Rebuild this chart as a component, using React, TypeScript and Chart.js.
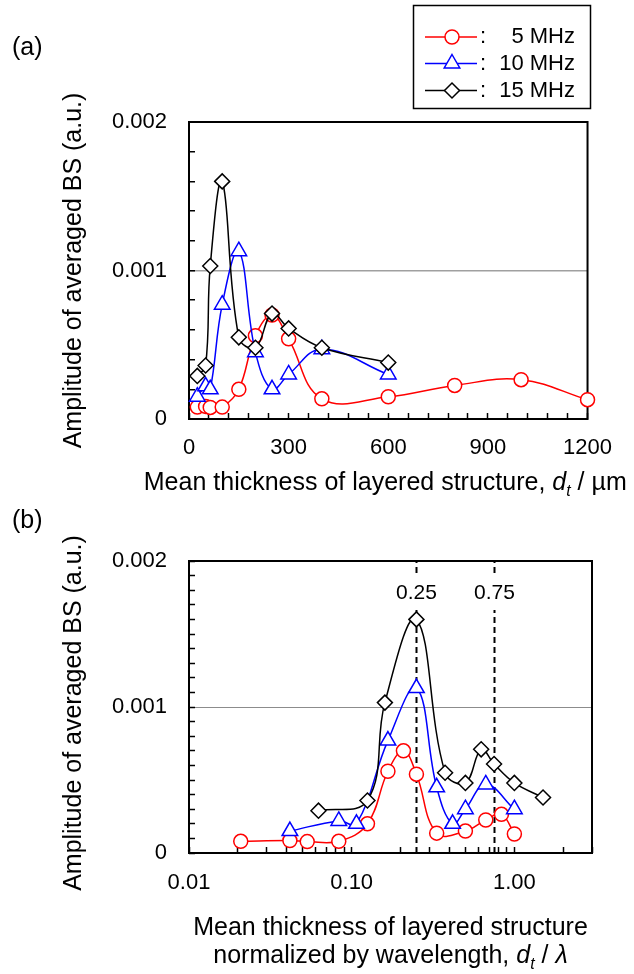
import React, { useEffect, useRef } from 'react';
import { Chart, registerables } from 'chart.js';

Chart.register(...registerables);

const FONT = '"Liberation Sans", Arial, Helvetica, sans-serif';

// Mean thickness of the layered structure (µm)
const THICKNESS_5MHZ = [25, 50, 64, 100, 150, 200, 250, 300, 400, 600, 800, 1000, 1200];
const THICKNESS_10MHZ = [25, 50, 64, 100, 150, 200, 250, 300, 400, 600];
const THICKNESS_15MHZ = [25, 50, 64, 100, 150, 200, 250, 300, 400, 600];

// Thickness normalized by wavelength, d_t / λ
const NORM_5MHZ = [0.0208, 0.0417, 0.0533, 0.0833, 0.125, 0.167, 0.208, 0.25, 0.333, 0.5, 0.667, 0.833, 1.0];
const NORM_10MHZ = [0.0417, 0.0833, 0.107, 0.167, 0.25, 0.333, 0.417, 0.5, 0.667, 1.0];
const NORM_15MHZ = [0.0625, 0.125, 0.16, 0.25, 0.375, 0.5, 0.625, 0.75, 1.0, 1.5];

// Amplitude of averaged backscatter (a.u.)
const AMP_5MHZ = [0.00008, 0.000085, 0.000078, 0.00008, 0.0002, 0.00056, 0.0007, 0.00054, 0.000136, 0.00015, 0.000226, 0.000265, 0.00013];
const AMP_10MHZ = [0.00015, 0.00022, 0.0002, 0.00077, 0.00113, 0.00045, 0.0002, 0.0003, 0.00047, 0.0003];
const AMP_15MHZ = [0.00029, 0.00036, 0.00103, 0.0016, 0.00055, 0.00048, 0.00071, 0.00061, 0.00048, 0.00038];

// Axis ticks
const TOP_X_TICKS = [0, 60, 120, 180, 240, 300, 360, 420, 480, 540, 600, 660, 720, 780, 840, 900, 960, 1020, 1080, 1140, 1200];
const TOP_X_LABELS = [0, 300, 600, 900, 1200];
const TOP_Y_TICKS = [0, 0.0002, 0.0004, 0.0006, 0.0008, 0.001, 0.0012, 0.0014, 0.0016, 0.0018, 0.002];
const BOTTOM_Y_TICKS = [0, 0.0001, 0.0002, 0.0003, 0.0004, 0.0005, 0.0006, 0.0007, 0.0008, 0.0009, 0.001,
  0.0011, 0.0012, 0.0013, 0.0014, 0.0015, 0.0016, 0.0017, 0.0018, 0.0019, 0.002];
const Y_LABEL_VALUES = [0, 0.001, 0.002];
const Y_LABEL_TEXT = ['0', '0.001', '0.002'];
const LOG_X_TICKS = [0.01, 0.02, 0.03, 0.04, 0.05, 0.06, 0.07, 0.08, 0.09,
  0.1, 0.2, 0.3, 0.4, 0.5, 0.6, 0.7, 0.8, 0.9, 1, 2, 3];
const LOG_X_LABEL_VALUES = [0.01, 0.1, 1];
const LOG_X_LABEL_TEXT = ['0.01', '0.10', '1.00'];
const REFERENCE_RATIOS = [0.25, 0.75];
const REFERENCE_LABELS = ['0.25', '0.75'];

type Series = { label: string; color: string; style: string; radius: number; order: number };
const SERIES_15: Series = { label: '15 MHz', color: '#000000', style: 'rectRot', radius: 7.5, order: 0 };
const SERIES_10: Series = { label: '10 MHz', color: '#0000ff', style: 'triangle', radius: 9, order: 1 };
const SERIES_5: Series = { label: '5 MHz', color: '#ff0000', style: 'circle', radius: 7, order: 2 };

function dataset(s: Series, xs: number[], ys: number[]) {
  return {
    label: s.label,
    data: xs.map((x, i) => ({ x, y: ys[i] })),
    borderColor: s.color,
    backgroundColor: '#ffffff',
    borderWidth: 1.5,
    pointStyle: s.style,
    pointRadius: s.radius,
    pointBorderWidth: 1.5,
    pointBorderColor: s.color,
    pointBackgroundColor: '#ffffff',
    tension: 0.4,
    fill: false,
    clip: false,
    order: s.order,
  };
}

const near = (a: number, b: number) => Math.abs(a - b) < 1e-9;

function yLabel(v: number) {
  const i = Y_LABEL_VALUES.findIndex((t) => near(t, v));
  return i >= 0 ? Y_LABEL_TEXT[i] : '';
}

function drawMarker(ctx: CanvasRenderingContext2D, style: string, x: number, y: number, r: number, color: string) {
  ctx.beginPath();
  if (style === 'circle') {
    ctx.arc(x, y, r, 0, Math.PI * 2);
  } else if (style === 'triangle') {
    ctx.moveTo(x, y - r);
    ctx.lineTo(x + r * 0.866, y + r * 0.5);
    ctx.lineTo(x - r * 0.866, y + r * 0.5);
  } else {
    ctx.moveTo(x - r, y);
    ctx.lineTo(x, y - r);
    ctx.lineTo(x + r, y);
    ctx.lineTo(x, y + r);
  }
  ctx.closePath();
  ctx.fillStyle = '#ffffff';
  ctx.fill();
  ctx.strokeStyle = color;
  ctx.lineWidth = 1.5;
  ctx.stroke();
}

type Seg = { t: string; italic?: boolean; sub?: boolean };
function drawRich(ctx: CanvasRenderingContext2D, segs: Seg[], cx: number, baseline: number, size: number) {
  const fontFor = (s: Seg) => `${s.italic ? 'italic ' : ''}${s.sub ? Math.round(size * 0.62) : size}px ${FONT}`;
  let total = 0;
  for (const s of segs) {
    ctx.font = fontFor(s);
    total += ctx.measureText(s.t).width;
  }
  let x = cx - total / 2;
  ctx.textAlign = 'left';
  ctx.textBaseline = 'alphabetic';
  ctx.fillStyle = '#000000';
  for (const s of segs) {
    ctx.font = fontFor(s);
    ctx.fillText(s.t, x, baseline + (s.sub ? size * 0.22 : 0));
    x += ctx.measureText(s.t).width;
  }
}

function drawYTitle(ctx: CanvasRenderingContext2D, x: number, cy: number) {
  ctx.save();
  ctx.translate(x, cy);
  ctx.rotate(-Math.PI / 2);
  ctx.font = `25px ${FONT}`;
  ctx.fillStyle = '#000000';
  ctx.textAlign = 'center';
  ctx.textBaseline = 'alphabetic';
  ctx.fillText('Amplitude of averaged BS (a.u.)', 0, 0);
  ctx.restore();
}

function drawFrame(chart: any) {
  const { ctx, chartArea: a } = chart;
  ctx.save();
  ctx.strokeStyle = '#000000';
  ctx.lineWidth = 2;
  ctx.strokeRect(a.left, a.top, a.right - a.left, a.bottom - a.top);
  ctx.restore();
}

const topDecor = {
  id: 'topDecor',
  beforeDatasetsDraw(chart: any) {
    drawFrame(chart);
  },
  afterDraw(chart: any) {
    const ctx: CanvasRenderingContext2D = chart.ctx;
    const a = chart.chartArea;
    ctx.save();
    ctx.fillStyle = '#000000';
    ctx.font = `25px ${FONT}`;
    ctx.textAlign = 'left';
    ctx.textBaseline = 'alphabetic';
    ctx.fillText('(a)', 12, 55);
    drawYTitle(ctx, 81, (a.top + a.bottom) / 2);
    drawRich(ctx, [
      { t: 'Mean thickness of layered structure, ' },
      { t: 'd', italic: true },
      { t: 't', italic: true, sub: true },
      { t: ' / µm' },
    ], (a.left + a.right) / 2 - 3, 490, 25);

    // legend
    ctx.strokeStyle = '#000000';
    ctx.lineWidth = 1.5;
    ctx.strokeRect(413.5, 5.5, 177, 103);
    const rows: [Series, number][] = [[SERIES_5, 37], [SERIES_10, 63.5], [SERIES_15, 90.5]];
    for (const [s, y] of rows) {
      ctx.strokeStyle = s.color;
      ctx.lineWidth = 1.5;
      ctx.beginPath();
      ctx.moveTo(425, y);
      ctx.lineTo(477, y);
      ctx.stroke();
      drawMarker(ctx, s.style, 452, y, s.radius, s.color);
      ctx.fillStyle = '#000000';
      ctx.font = `22px ${FONT}`;
      ctx.textBaseline = 'middle';
      ctx.textAlign = 'left';
      ctx.fillText(':', 480, y);
      ctx.textAlign = 'right';
      ctx.fillText(s.label, 575, y);
    }
    ctx.restore();
  },
};

const bottomDecor = {
  id: 'bottomDecor',
  beforeDatasetsDraw(chart: any) {
    drawFrame(chart);
    const ctx: CanvasRenderingContext2D = chart.ctx;
    const a = chart.chartArea;
    const xs = chart.scales.x;
    ctx.save();
    REFERENCE_RATIOS.forEach((r, i) => {
      const px = Math.round(xs.getPixelForValue(r)) + 0.5;
      ctx.strokeStyle = '#000000';
      ctx.lineWidth = 2;
      ctx.setLineDash([6, 4]);
      ctx.beginPath();
      ctx.moveTo(px, a.bottom);
      ctx.lineTo(px, a.top);
      ctx.stroke();
      ctx.setLineDash([]);
      ctx.font = `21px ${FONT}`;
      const w = ctx.measureText(REFERENCE_LABELS[i]).width;
      ctx.fillStyle = '#ffffff';
      ctx.fillRect(px - w / 2 - 3, a.top + 13, w + 6, 36);
      ctx.fillStyle = '#000000';
      ctx.textAlign = 'center';
      ctx.textBaseline = 'middle';
      ctx.fillText(REFERENCE_LABELS[i], px, a.top + 32);
    });
    ctx.restore();
  },
  afterDraw(chart: any) {
    const ctx: CanvasRenderingContext2D = chart.ctx;
    const a = chart.chartArea;
    ctx.save();
    ctx.fillStyle = '#000000';
    ctx.font = `25px ${FONT}`;
    ctx.textAlign = 'left';
    ctx.textBaseline = 'alphabetic';
    ctx.fillText('(b)', 12, 28);
    drawYTitle(ctx, 81, (a.top + a.bottom) / 2 + 6);
    const cx = (a.left + a.right) / 2;
    drawRich(ctx, [{ t: 'Mean thickness of layered structure' }], cx, 435, 25);
    drawRich(ctx, [
      { t: 'normalized by wavelength, ' },
      { t: 'd', italic: true },
      { t: 't', italic: true, sub: true },
      { t: ' / ' },
      { t: 'λ', italic: true },
    ], cx, 463, 25);
    ctx.restore();
  },
};

function yScale(ticks: number[], gridColor: string, gridWidth: number) {
  return {
    type: 'linear',
    min: 0,
    max: 0.002,
    afterBuildTicks: (s: any) => { s.ticks = ticks.map((v) => ({ value: v })); },
    afterFit: (s: any) => { s.width = 189; },
    border: { display: false },
    grid: {
      drawOnChartArea: true,
      drawTicks: true,
      tickLength: -6,
      tickColor: '#000000',
      tickWidth: 1.5,
      color: (c: any) => (c.tick && near(c.tick.value, 0.001) ? gridColor : 'rgba(0,0,0,0)'),
      lineWidth: gridWidth,
    },
    ticks: {
      autoSkip: false,
      padding: 28,
      color: '#000000',
      font: { family: FONT, size: 22 },
      callback: (v: any) => yLabel(Number(v)),
    },
  };
}

export default function App() {
  const topRef = useRef<HTMLCanvasElement>(null);
  const bottomRef = useRef<HTMLCanvasElement>(null);

  useEffect(() => {
    const top = new Chart(topRef.current as HTMLCanvasElement, {
      type: 'line',
      data: {
        datasets: [
          dataset(SERIES_15, THICKNESS_15MHZ, AMP_15MHZ),
          dataset(SERIES_10, THICKNESS_10MHZ, AMP_10MHZ),
          dataset(SERIES_5, THICKNESS_5MHZ, AMP_5MHZ),
        ] as any,
      },
      options: {
        responsive: false,
        animation: false,
        events: [],
        layout: { padding: { left: 0, top: 122, right: 41, bottom: 0 } },
        plugins: { legend: { display: false }, tooltip: { enabled: false } },
        scales: {
          x: {
            type: 'linear',
            min: 0,
            max: 1200,
            afterBuildTicks: (s: any) => { s.ticks = TOP_X_TICKS.map((v) => ({ value: v })); },
            afterFit: (s: any) => { s.height = 81; },
            border: { display: false },
            grid: { drawOnChartArea: false, drawTicks: true, tickLength: -6, tickColor: '#000000', tickWidth: 1.5 },
            ticks: {
              autoSkip: false,
              maxRotation: 0,
              padding: 22,
              color: '#000000',
              font: { family: FONT, size: 22 },
              callback: (v: any) => (TOP_X_LABELS.includes(Number(v)) ? String(v) : ''),
            },
          },
          y: yScale(TOP_Y_TICKS, '#a0a0a0', 1.5),
        } as any,
      },
      plugins: [topDecor],
    });

    const bottom = new Chart(bottomRef.current as HTMLCanvasElement, {
      type: 'line',
      data: {
        datasets: [
          dataset(SERIES_15, NORM_15MHZ, AMP_15MHZ),
          dataset(SERIES_10, NORM_10MHZ, AMP_10MHZ),
          dataset(SERIES_5, NORM_5MHZ, AMP_5MHZ),
        ] as any,
      },
      options: {
        responsive: false,
        animation: false,
        events: [],
        layout: { padding: { left: 0, top: 61, right: 42, bottom: 0 } },
        plugins: { legend: { display: false }, tooltip: { enabled: false } },
        scales: {
          x: {
            type: 'logarithmic',
            min: 0.01,
            max: 3,
            afterBuildTicks: (s: any) => { s.ticks = LOG_X_TICKS.map((v) => ({ value: v })); },
            afterFit: (s: any) => { s.height = 121; },
            border: { display: false },
            grid: { drawOnChartArea: false, drawTicks: true, tickLength: -6, tickColor: '#000000', tickWidth: 1.5 },
            ticks: {
              autoSkip: false,
              maxRotation: 0,
              padding: 23,
              color: '#000000',
              font: { family: FONT, size: 22 },
              callback: (v: any) => {
                const i = LOG_X_LABEL_VALUES.findIndex((t) => near(t, Number(v)));
                return i >= 0 ? LOG_X_LABEL_TEXT[i] : '';
              },
            },
          },
          y: yScale(BOTTOM_Y_TICKS, '#8c8c8c', 1),
        } as any,
      },
      plugins: [bottomDecor],
    });

    return () => {
      top.destroy();
      bottom.destroy();
    };
  }, []);

  return (
    <div style={{ position: 'absolute', left: 0, top: 0, width: 634, height: 974, background: '#ffffff' }}>
      <canvas ref={topRef} width={634} height={500} style={{ position: 'absolute', left: 0, top: 0, width: 634, height: 500 }} />
      <canvas ref={bottomRef} width={634} height={474} style={{ position: 'absolute', left: 0, top: 500, width: 634, height: 474 }} />
    </div>
  );
}
